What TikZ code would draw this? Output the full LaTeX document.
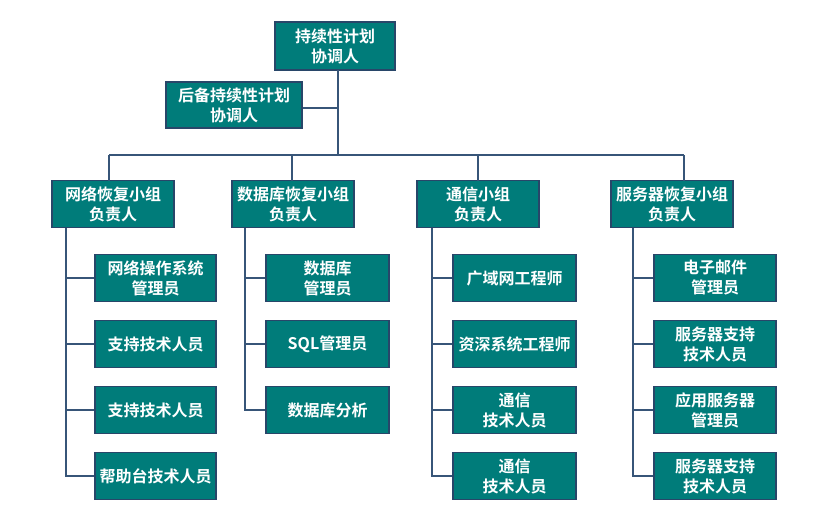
\documentclass[tikz,border=0pt]{standalone}
\usepackage{fontspec}
\newfontfamily\cjk{Noto Sans CJK SC}[BoldFont={Noto Sans CJK SC Bold}]
\begin{document}
\begin{tikzpicture}[x=1pt,y=-1pt,
  box/.style={draw=boxline,line width=1.2pt,fill=teal1,text=white,font=\cjk\bfseries\fontsize{16}{20}\selectfont,align=center,inner sep=0pt,minimum width=122pt,minimum height=47pt},
  conn/.style={draw=linecol,line width=1.1pt}]
\definecolor{teal1}{RGB}{0,124,122}
\definecolor{boxline}{RGB}{40,70,105}
\definecolor{linecol}{RGB}{55,85,120}
\useasboundingbox (0,0) rectangle (821,525);
% top
\node[box,minimum width=120pt,minimum height=48pt] (top) at (335,46) {持续性计划\\协调人};
\node[box,minimum width=136pt,minimum height=46pt] (bk) at (234,105) {后备持续性计划\\协调人};
% groups
\node[box] (g1) at (113,204) {网络恢复小组\\负责人};
\node[box] (g2) at (293,204) {数据库恢复小组\\负责人};
\node[box] (g3) at (478,204) {通信小组\\负责人};
\node[box] (g4) at (672,204) {服务器恢复小组\\负责人};
% children col1
\node[box,minimum width=121pt] (a1) at (155.5,278) {网络操作系统\\管理员};
\node[box,minimum width=121pt] (a2) at (155.5,344) {支持技术人员};
\node[box,minimum width=121pt] (a3) at (155.5,410) {支持技术人员};
\node[box,minimum width=121pt] (a4) at (155.5,476) {帮助台技术人员};
% col2
\node[box,minimum width=123pt] (b1) at (327.5,278) {数据库\\管理员};
\node[box,minimum width=123pt] (b2) at (327.5,344) {SQL管理员};
\node[box,minimum width=123pt] (b3) at (327.5,410) {数据库分析};
% col3
\node[box,minimum width=123pt] (c1) at (514.5,278) {广域网工程师};
\node[box,minimum width=123pt] (c2) at (514.5,344) {资深系统工程师};
\node[box,minimum width=123pt] (c3) at (514.5,410) {通信\\技术人员};
\node[box,minimum width=123pt] (c4) at (514.5,476) {通信\\技术人员};
% col4
\node[box,minimum width=122pt] (d1) at (715,278) {电子邮件\\管理员};
\node[box,minimum width=122pt] (d2) at (715,344) {服务器支持\\技术人员};
\node[box,minimum width=122pt] (d3) at (715,410) {应用服务器\\管理员};
\node[box,minimum width=122pt] (d4) at (715,476) {服务器支持\\技术人员};
% connectors
\coordinate (bus) at (338,155);
\draw[conn] (338,70) coordinate (ts) -- (bus);
\draw[conn] (bk.east |- 0,108) -- (338,108);
\draw[conn] (109,155) -- (684,155);
\draw[conn] (109,155) -- (109,180.5);
\draw[conn] (292,155) -- (292,180.5);
\draw[conn] (478,155) -- (478,180.5);
\draw[conn] (684,155) -- (684,180.5);
% trunks
\draw[conn] (66,227.5) -- (66,476) -- (a4.west);
\foreach \n in {a1,a2,a3} \draw[conn] (66,0 |- \n.west) -- (\n.west);
\draw[conn] (245,227.5) -- (245,410) -- (b3.west);
\foreach \n in {b1,b2} \draw[conn] (245,0 |- \n.west) -- (\n.west);
\draw[conn] (432,227.5) -- (432,476) -- (c4.west);
\foreach \n in {c1,c2,c3} \draw[conn] (432,0 |- \n.west) -- (\n.west);
\draw[conn] (633,227.5) -- (633,476) -- (d4.west);
\foreach \n in {d1,d2,d3} \draw[conn] (633,0 |- \n.west) -- (\n.west);
\end{tikzpicture}
\end{document}
